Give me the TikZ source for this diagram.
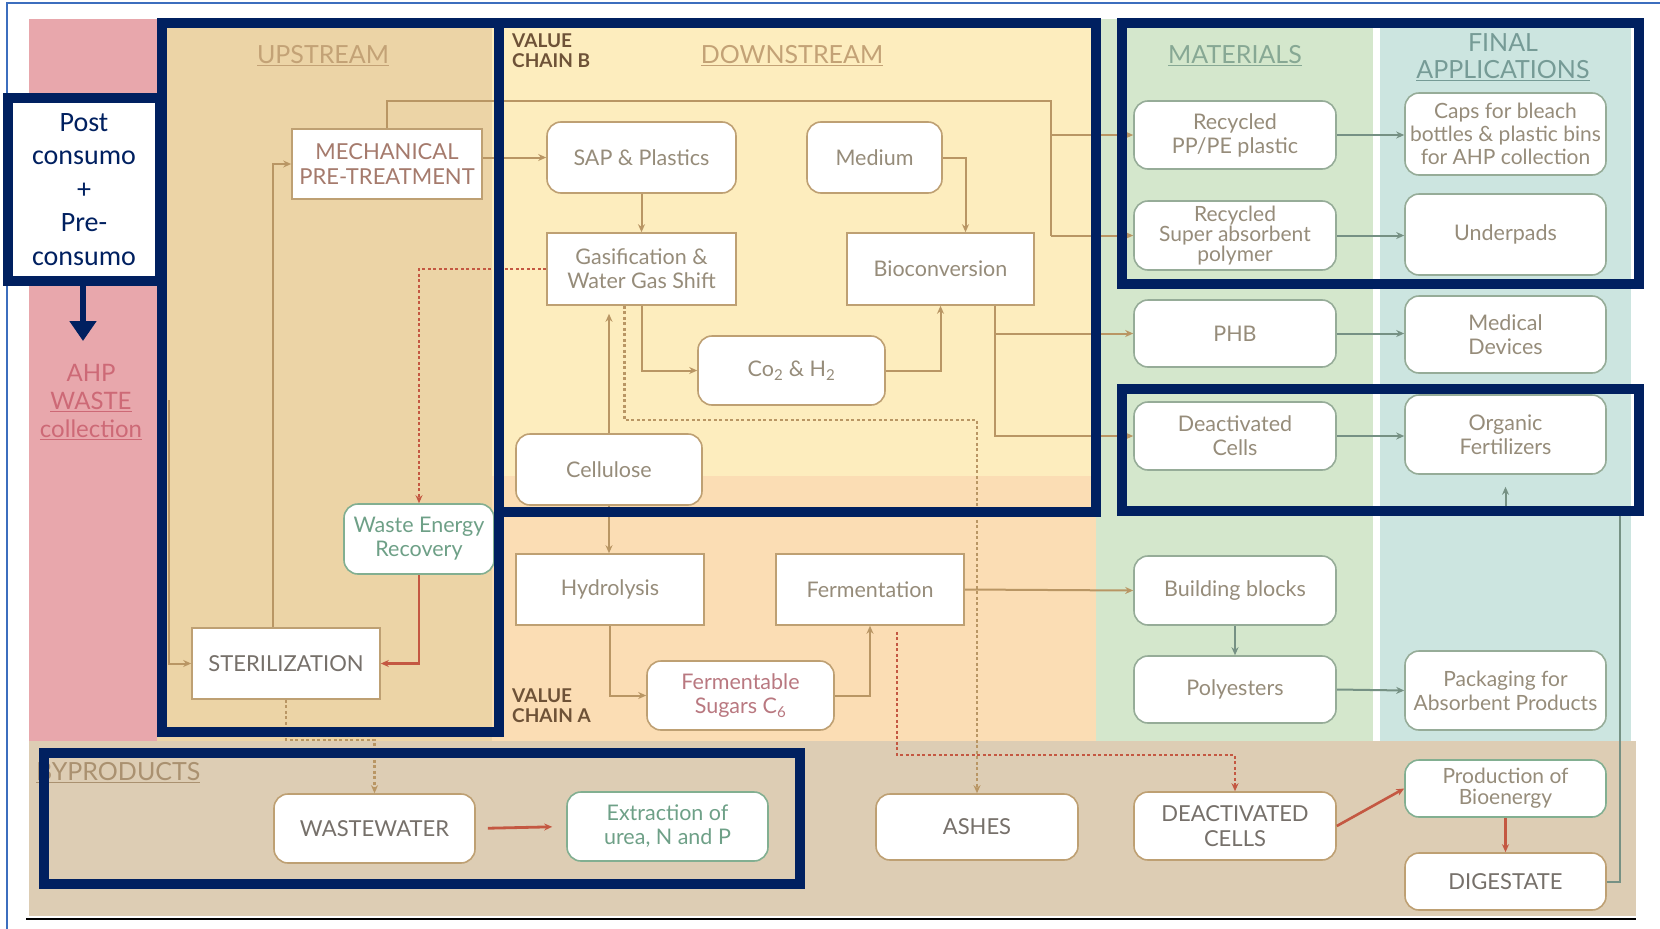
\documentclass[tikz,border=0pt]{standalone}
\usepackage{fontspec}
\setmainfont{Lato}
\newfontfamily\calib{Carlito}
\usetikzlibrary{arrows.meta,calc}
\definecolor{navy}{RGB}{0,32,96}
\definecolor{framebl}{RGB}{60,110,190}
\definecolor{pinkbg}{RGB}{232,167,172}
\definecolor{upbg}{RGB}{236,212,166}
\definecolor{dnbbg}{RGB}{253,237,190}
\definecolor{dnabg}{RGB}{251,221,180}
\definecolor{matbg}{RGB}{212,231,204}
\definecolor{finbg}{RGB}{204,229,224}
\definecolor{bypbg}{RGB}{221,205,180}
\definecolor{bordtan}{RGB}{190,160,115}
\definecolor{matbord}{RGB}{150,172,152}
\definecolor{greenbord}{RGB}{130,175,145}
\definecolor{txtgray}{RGB}{150,140,122}
\definecolor{darkgray}{RGB}{118,112,106}
\definecolor{mechtxt}{RGB}{165,122,108}
\definecolor{pinktxt}{RGB}{185,120,128}
\definecolor{greentxt}{RGB}{110,160,135}
\definecolor{linetan}{RGB}{185,150,100}
\definecolor{redln}{RGB}{196,88,66}
\definecolor{grln}{RGB}{118,145,132}
\definecolor{hdrtan}{RGB}{195,162,118}
\definecolor{matgreen}{RGB}{135,168,148}
\definecolor{fintxt}{RGB}{118,155,150}
\definecolor{vcbrown}{RGB}{110,82,55}
\definecolor{ahpred}{RGB}{205,105,118}
\definecolor{byptxt}{RGB}{170,145,112}
\newcommand\nodefnt{\fontsize{21.5}{24}\selectfont}
\newcommand\bigfnt{\fontsize{22}{25}\selectfont}
\newcommand\hdrfnt{\fontsize{25}{27}\selectfont}
\newcommand\vcfnt{\bfseries\fontsize{19}{20}\selectfont}
\begin{document}
\begin{tikzpicture}[x=1pt,y=-1pt,
  sq/.style={draw=bordtan, line width=1.6pt, fill=white, inner sep=0pt, align=center, font=\nodefnt, text=txtgray},
  rnd/.style={sq, rounded corners=14pt},
  mat/.style={rnd, draw=matbord, text=txtgray},
  byp/.style={rnd, draw=bordtan, text=darkgray, font=\bigfnt},
  ln/.style={draw=linetan, line width=2pt},
  redsolid/.style={draw=redln, line width=2.2pt},
  reddot/.style={draw=redln, line width=2.6pt, dash pattern=on 3pt off 2.5pt},
  tandot/.style={draw=linetan, line width=2.2pt, dash pattern=on 3pt off 2.5pt},
  grline/.style={draw=grln, line width=2pt},
  arr/.style={-{Stealth[length=8pt,width=7pt]}},
  navybox/.style={draw=navy, line width=10pt},
  hdr/.style={font=\hdrfnt, text=hdrtan, inner sep=0pt, align=center},
  vclab/.style={font=\vcfnt, text=vcbrown, inner sep=0pt, align=left, anchor=north west}
]
\useasboundingbox (0,0) rectangle (1660,929);
% backgrounds
\fill[pinkbg] (28.6,19) rectangle (157,741);
\fill[upbg] (157,19) rectangle (492,741);
\fill[dnbbg] (492,19) rectangle (1096,476);
\fill[dnabg] (492,476) rectangle (1096,741);
\fill[matbg] (1096,19) rectangle (1373,741);
\fill[finbg] (1380,19) rectangle (1631,741);
\fill[bypbg] (28.6,741) rectangle (1636,916);
\draw[black, line width=2pt] (26,919) -- (1636,919);
\draw[framebl, line width=1.5pt] (7,929) -- (7,3) -- (1660,3);

% labels
\node[hdr] (UPL) at (323,56) {\underline{UPSTREAM}};
\node[hdr] (DNL) at (792,56) {\underline{DOWNSTREAM}};
\node[hdr, text=matgreen] (MATL) at (1235,56) {\underline{MATERIALS}};
\node[hdr, text=fintxt] (FINL) at (1503,57) {FINAL\\\underline{APPLICATIONS}};
\node[vclab] (VCB) at (512,34) {VALUE\\CHAIN B};
\node[vclab] (VCA) at (512,689) {VALUE\\CHAIN A};
\node[font=\fontsize{24}{28}\selectfont, text=ahpred, align=center, inner sep=0pt] (AHP) at (91,402) {AHP\\\underline{WASTE}\\\underline{collection}};
\node[hdr, text=byptxt, anchor=west] (BYP) at (36,773) {\underline{BYPRODUCTS}};

% nodes
\node[sq, minimum width=190pt, minimum height=70pt, text=mechtxt, font=\fontsize{22}{25}\selectfont] (MECH) at (387,164) {MECHANICAL\\PRE-TREATMENT};
\node[rnd, minimum width=189pt, minimum height=71pt] (SAP) at (641.5,157.5) {SAP \& Plastics};
\node[rnd, minimum width=135pt, minimum height=71pt] (MED) at (874.5,157.5) {Medium};
\node[sq, minimum width=189pt, minimum height=72pt] (GAS) at (641.5,269) {Gasification \&\\Water Gas Shift};
\node[sq, minimum width=187pt, minimum height=72pt] (BIO) at (940.5,269) {Bioconversion};
\node[rnd, minimum width=187pt, minimum height=69pt] (COH) at (791.5,370.5) {Co\textsubscript{2} \& H\textsubscript{2}};
\node[rnd, minimum width=186pt, minimum height=71pt] (CEL) at (609,469.5) {Cellulose};
\node[rnd, draw=greenbord, text=greentxt, minimum width=150pt, minimum height=70pt] (WER) at (419,539) {Waste Energy\\Recovery};
\node[sq, minimum width=188pt, minimum height=71pt, text=darkgray, font=\fontsize{22}{25}\selectfont] (STER) at (286,663.5) {STERILIZATION};
\node[sq, minimum width=188pt, minimum height=71pt] (HYD) at (610,589.5) {Hydrolysis};
\node[sq, minimum width=188pt, minimum height=71pt] (FER) at (870,589.5) {Fermentation};
\node[rnd, minimum width=187pt, minimum height=69pt, text=pinktxt] (SUG) at (740.5,695.5) {Fermentable\\Sugars C\textsubscript{6}};

\node[mat, minimum width=202pt, minimum height=68pt] (PPPE) at (1235,135) {Recycled\\PP/PE plastic};
\node[mat, minimum width=202pt, minimum height=69pt, font=\fontsize{21}{20}\selectfont] (SAPR) at (1235,235.5) {Recycled\\Super absorbent\\polymer};
\node[mat, minimum width=202pt, minimum height=67pt] (PHB) at (1235,333.5) {PHB};
\node[mat, minimum width=202pt, minimum height=68pt] (DCL) at (1235,436) {Deactivated\\Cells};
\node[mat, minimum width=202pt, minimum height=69pt] (BB) at (1235,590.5) {Building blocks};
\node[mat, minimum width=202pt, minimum height=67pt] (POL) at (1235,689.5) {Polyesters};

\node[mat, minimum width=201pt, minimum height=82pt, font=\fontsize{21}{23}\selectfont] (CAPS) at (1505.5,134) {Caps for bleach\\bottles \& plastic bins\\for AHP collection};
\node[mat, minimum width=201pt, minimum height=81pt] (UND) at (1505.5,234.5) {Underpads};
\node[mat, minimum width=201pt, minimum height=77pt] (MEDD) at (1505.5,334.5) {Medical\\Devices};
\node[mat, minimum width=201pt, minimum height=79pt] (ORG) at (1505.5,434.5) {Organic\\Fertilizers};
\node[mat, minimum width=201pt, minimum height=79pt, font=\fontsize{21}{24}\selectfont] (PACK) at (1505.5,690.5) {Packaging for\\Absorbent Products};
\node[mat, draw=greenbord, minimum width=201pt, minimum height=57pt, font=\fontsize{21}{21}\selectfont] (BIOE) at (1505.5,788.5) {Production of\\Bioenergy};
\node[byp, minimum width=201pt, minimum height=57pt] (DIG) at (1505.5,881.5) {DIGESTATE};

\node[byp, minimum width=201pt, minimum height=69pt] (WW) at (374.5,828.5) {WASTEWATER};
\node[rnd, draw=greenbord, text=greentxt, minimum width=201pt, minimum height=69pt] (EXT) at (667.5,826.5) {Extraction of\\urea, N and P};
\node[byp, minimum width=202pt, minimum height=66pt] (ASH) at (977,827) {ASHES};
\node[byp, minimum width=202pt, minimum height=68pt] (DC) at (1235,826) {DEACTIVATED\\CELLS};

% connectors
\coordinate (TR) at (1051,100.5);
\coordinate (AHPs) at (169,400);
\coordinate (DT) at (977,420);
\coordinate (RD) at (1235,755);
\coordinate (SW) at (374.5,740);
\coordinate (DGT) at (1620,511);

\draw[ln,arr] (MECH.east |- SAP.west) -- (SAP.west);
\draw[ln] (MECH.north) |- (TR) -- (TR |- SAPR.west);
\draw[ln,arr] (TR |- PPPE.west) -- (PPPE.west);
\draw[ln,arr] (TR |- SAPR.west) -- (SAPR.west);
\draw[ln,arr] ([xshift=-13pt]STER.north) |- (MECH.west);
\draw[ln,arr] (AHPs) |- (STER.west);
\draw[redsolid,arr] (WER.south) |- (STER.east);
\draw[reddot,arr] (GAS.west) -| (WER.north);
\draw[ln,arr] (SAP.south) -- (GAS.north);
\draw[ln,arr] (MED.east) -| ([xshift=25pt]BIO.north);
\draw[ln,arr] (GAS.south) |- (COH.west);
\draw[ln,arr] (COH.east) -| (BIO.south);
\draw[ln,arr] (CEL.north) -- ($(CEL.north |- GAS.south)+(0,8)$);
\draw[ln,arr] (CEL.south) -- (CEL.south |- HYD.north);
\draw[tandot,arr] ([xshift=-17pt]GAS.south) |- (DT) -- (ASH.north);
\draw[ln,arr] ([xshift=54.5pt]BIO.south) |- (PHB.west);
\draw[ln,arr] ([xshift=54.5pt]BIO.south) |- (DCL.west);
\draw[ln,arr] (HYD.south) |- (SUG.west);
\draw[ln,arr] (SUG.east) -| (FER.south);
\draw[ln,arr] (FER.east) -- (BB.west);
\draw[reddot,arr] ([xshift=27pt,yshift=-6pt]FER.south) |- (RD) -- (DC.north);
\draw[grline,arr] (BB.south) -- (POL.north);
\draw[grline,arr] (POL.east) -- (PACK.west);
\draw[grline,arr] (PPPE.east) -- (PPPE.east -| CAPS.west);
\draw[grline,arr] (SAPR.east) -- (SAPR.east -| UND.west);
\draw[grline,arr] (PHB.east) -- (PHB.east -| MEDD.west);
\draw[grline,arr] (DCL.east) -- (DCL.east -| ORG.west);
\draw[grline,arr] (DIG.east) -| (DGT) -| ([yshift=-12pt]ORG.south);
\draw[tandot,arr] (STER.south) |- (SW) -- (WW.north);
\draw[redsolid,line width=2.8pt,arr,shorten <=12pt,shorten >=14pt] (WW.east) -- (EXT.west);
\draw[redsolid,line width=2.6pt,arr] (DC.east) -- (BIOE.west);
\draw[redsolid,arr] (BIOE.south) -- (DIG.north);

% navy frames
\draw[navybox] (162,23) rectangle (499,732);
\draw[navybox] (499,23) rectangle (1096,512);
\draw[navybox] (1122,23) rectangle (1639,284);
\draw[navybox] (1122,389) rectangle (1639,511);
\draw[navybox] (44,753) rectangle (800,884);
\node[draw=navy, line width=10pt, fill=white, minimum width=152pt, minimum height=183pt, inner sep=0pt, align=center, text=navy, font=\calib\fontsize{28}{33.5}\selectfont] (POST) at (84,189.5) {Post\\consumo\\+\\Pre-\\consumo};
\coordinate (PT) at (83,341);
\draw[navy, line width=6pt, -{Triangle[length=20pt,width=26pt]}] (POST.south -| PT) -- (PT);
\end{tikzpicture}
\end{document}
